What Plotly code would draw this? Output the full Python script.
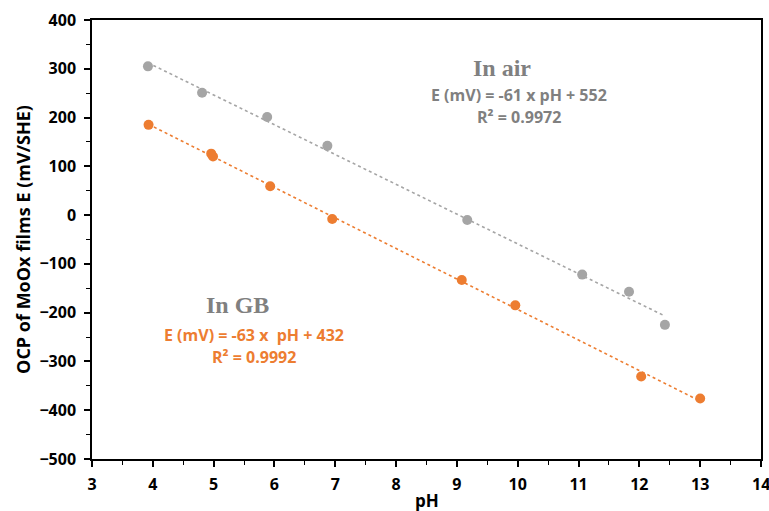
import numpy as np
import plotly.graph_objects as go

# In air (grey)
air_ph = [3.92, 4.81, 5.88, 6.87, 9.17, 11.06, 11.83, 12.42]
air_e = [305, 251, 201, 142, -10, -122, -157, -225]
# In GB (orange)
gb_ph = [3.93, 4.96, 4.99, 5.93, 6.95, 9.08, 9.96, 12.03, 13.0]
gb_e = [185, 126, 120, 59, -8, -133, -185, -331, -376]

x_ticks = [3, 4, 5, 6, 7, 8, 9, 10, 11, 12, 13, 14]
y_ticks = [-500, -400, -300, -200, -100, 0, 100, 200, 300, 400]

GREY = "#A5A5A5"
ORANGE = "#ED7D31"
TEXT_GREY = "#808080"


def trend(xs, ys):
    k, b = np.polyfit(xs, ys, 1)
    xx = np.array([min(xs), max(xs)])
    return xx, k * xx + b


fig = go.Figure()
for xs, ys, col in [(air_ph, air_e, GREY), (gb_ph, gb_e, ORANGE)]:
    tx, ty = trend(xs, ys)
    fig.add_trace(go.Scatter(x=tx, y=ty, mode="lines",
                             line=dict(color=col, width=1.6, dash="dot"),
                             showlegend=False, hoverinfo="skip"))
    fig.add_trace(go.Scatter(x=xs, y=ys, mode="markers",
                             marker=dict(color=col, size=10, line=dict(width=0)),
                             showlegend=False))

font_fam = "Open Sans"
ann = [
    dict(x=9.74, y=302, text="<b>In air</b>", font=dict(family="Liberation Serif", size=24, color=TEXT_GREY)),
    dict(x=10.02, y=247, text="E (mV) = -61 x pH + 552", font=dict(family=font_fam, size=16, color=TEXT_GREY, weight="bold")),
    dict(x=10.02, y=202, text="R² = 0.9972", font=dict(family=font_fam, size=16, color=TEXT_GREY, weight="bold")),
    dict(x=5.40, y=-184, text="<b>In GB</b>", font=dict(family="Liberation Serif", size=24, color=TEXT_GREY)),
    dict(x=5.66, y=-246, text="E (mV) = -63 x  pH + 432", font=dict(family=font_fam, size=16, color=ORANGE, weight="bold")),
    dict(x=5.66, y=-290, text="R² = 0.9992", font=dict(family=font_fam, size=16, color=ORANGE, weight="bold")),
]
for a in ann:
    fig.add_annotation(xref="x", yref="y", showarrow=False, xanchor="center", yanchor="middle", **a)

# last x tick label (would be hidden at the page edge), drawn as text
tick_text = [str(t) for t in x_ticks[:-1]] + [""]
fig.add_annotation(xref="x", yref="paper", x=x_ticks[-1], y=0, yshift=-12,
                   text=str(x_ticks[-1]), showarrow=False, xanchor="center", yanchor="top",
                   font=dict(family=font_fam, size=16, color="black", weight="bold"))
# x-axis title
fig.add_annotation(xref="paper", yref="paper", x=0.5, y=0, yshift=-28,
                   text="pH", showarrow=False, xanchor="center", yanchor="top",
                   font=dict(family=font_fam, size=17, color="black", weight="bold"))

fig.update_layout(
    width=769, height=511,
    margin=dict(l=92, r=8, t=20, b=52),
    paper_bgcolor="white", plot_bgcolor="white",
    font=dict(family=font_fam, color="black"),
    xaxis=dict(range=[3, 14], tickvals=x_ticks, ticktext=tick_text, ticks="outside", ticklen=6, tickwidth=1.5,
               tickcolor="black", showline=True, linecolor="black", linewidth=1.5, mirror=True,
               showgrid=False, zeroline=False, ticklabelstandoff=4, automargin=False,
               tickfont=dict(family=font_fam, size=16, color="black", weight="bold"),
               minor=dict(dtick=0.5, ticks="outside", ticklen=4, tickwidth=1.2, tickcolor="black")),
    yaxis=dict(range=[-500, 400], tickvals=y_ticks, ticks="outside", ticklen=6, tickwidth=1.5,
               tickcolor="black", showline=True, linecolor="black", linewidth=1.5, mirror=True,
               showgrid=False, zeroline=False, ticklabelstandoff=5, automargin=False,
               tickfont=dict(family=font_fam, size=16, color="black", weight="bold"),
               minor=dict(dtick=50, ticks="outside", ticklen=4, tickwidth=1.2, tickcolor="black"),
               title=dict(text="OCP of MoOx films E (mV/SHE)", font=dict(family=font_fam, size=18, weight="bold"), standoff=4)),
)

fig.write_html("out.html")
